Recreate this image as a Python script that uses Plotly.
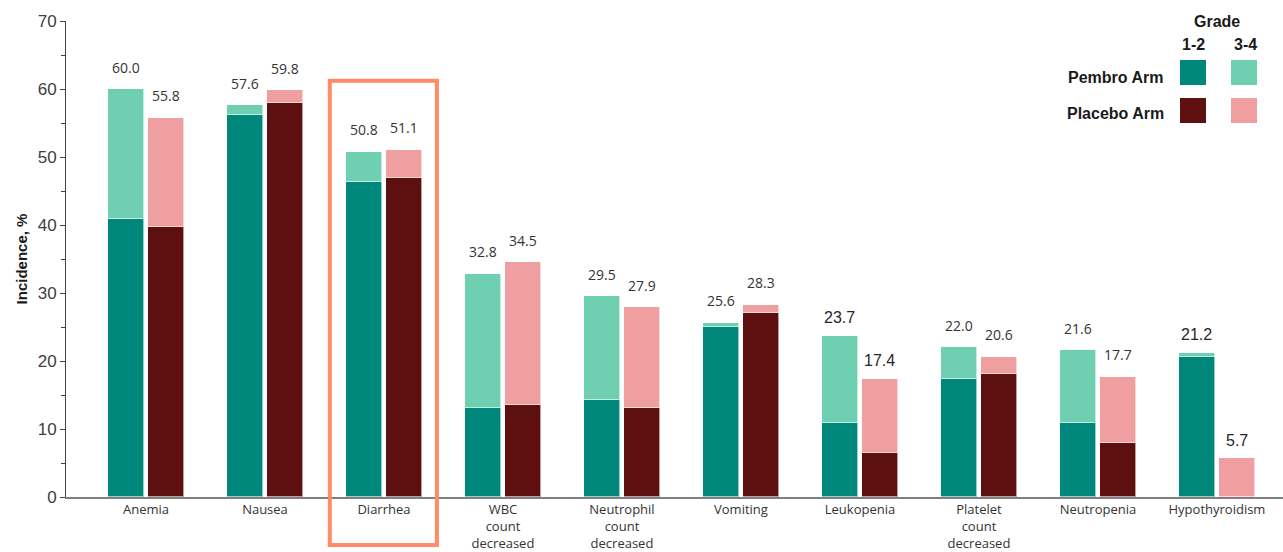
import plotly.graph_objects as go

categories = ["Anemia", "Nausea", "Diarrhea", "WBC<br>count<br>decreased",
              "Neutrophil<br>count<br>decreased", "Vomiting", "Leukopenia",
              "Platelet<br>count<br>decreased", "Neutropenia", "Hypothyroidism"]
pembro_total = [60.0, 57.6, 50.8, 32.8, 29.5, 25.6, 23.7, 22.0, 21.6, 21.2]
pembro_g12 = [40.9, 56.2, 46.3, 13.1, 14.3, 25.0, 10.9, 17.4, 10.9, 20.6]
placebo_total = [55.8, 59.8, 51.1, 34.5, 27.9, 28.3, 17.4, 20.6, 17.7, 5.7]
placebo_g12 = [39.7, 57.9, 46.9, 13.5, 13.1, 27.1, 6.5, 18.1, 7.9, 0.0]

pembro_g34 = [round(t - a, 1) for t, a in zip(pembro_total, pembro_g12)]
placebo_g34 = [round(t - a, 1) for t, a in zip(placebo_total, placebo_g12)]

C_TEAL = "#00877B"
C_TEAL_L = "#6FCFB1"
C_RED = "#5E1011"
C_PINK = "#F09FA0"

n = len(categories)
idx = list(range(n))
off = 0.168
bw = 0.31
xp = [i - off for i in idx]
xq = [i + off for i in idx]

fig = go.Figure()
line = dict(color="rgba(255,255,255,0.6)", width=1)
fig.add_trace(go.Bar(x=xp, y=pembro_g12, width=bw, marker=dict(color=C_TEAL, line=line), showlegend=False))
fig.add_trace(go.Bar(x=xp, y=pembro_g34, width=bw, marker=dict(color=C_TEAL_L, line=line), showlegend=False))
fig.add_trace(go.Bar(x=xq, y=placebo_g12, width=bw, marker=dict(color=C_RED, line=line), showlegend=False))
fig.add_trace(go.Bar(x=xq, y=placebo_g34, width=bw, marker=dict(color=C_PINK, line=line), showlegend=False))

lab_font = dict(family="Open Sans, Noto Sans, sans-serif", size=14, color="#333333")
lab_font_alt = dict(family="Arial, Liberation Sans, sans-serif", size=16, color="#262626")
alt_idx = {6, 9}
for i in idx:
    f = lab_font_alt if i in alt_idx else lab_font
    ys = 18 if i in alt_idx else 22
    fig.add_annotation(x=xp[i], y=pembro_total[i], text=f"{pembro_total[i]:.1f}", showarrow=False,
                       yshift=ys, font=f, xref="x", yref="y")
    fig.add_annotation(x=xq[i], y=placebo_total[i], text=f"{placebo_total[i]:.1f}", showarrow=False,
                       yshift=ys, font=f, xref="x", yref="y")

x_range = [-0.672, 9.555]
y_range = [0, 70]

def px_x(v):
    return (v - x_range[0]) / (x_range[1] - x_range[0])

def px_y(v):
    return (v - y_range[0]) / (y_range[1] - y_range[0])

# highlight box around Diarrhea
fig.add_shape(type="rect", xref="paper", yref="paper",
              x0=px_x(2 - 0.455), x1=px_x(2 + 0.445), y0=px_y(-7.05), y1=px_y(61.2),
              line=dict(color="#FF8C66", width=4), fillcolor="rgba(0,0,0,0)", layer="above")

# custom legend (paper coords from pixel layout)
W, H, L, T = 1217.0, 476.0, 66.0, 21.0
def pxp(x):
    return (x - L) / W
def pyp(y):
    return (T + H - y) / H

bold = dict(family="Arial, Liberation Sans, sans-serif", size=16, color="#1a1a1a")
fig.add_annotation(xref="paper", yref="paper", x=pxp(1217), y=pyp(21), text="<b>Grade</b>",
                   showarrow=False, font=bold, xanchor="center", yanchor="middle")
fig.add_annotation(xref="paper", yref="paper", x=pxp(1193), y=pyp(44), text="<b>1-2</b>",
                   showarrow=False, font=bold, xanchor="center", yanchor="middle")
fig.add_annotation(xref="paper", yref="paper", x=pxp(1245), y=pyp(44), text="<b>3-4</b>",
                   showarrow=False, font=bold, xanchor="center", yanchor="middle")
fig.add_annotation(xref="paper", yref="paper", x=pxp(1165), y=pyp(77), text="<b>Pembro Arm</b>",
                   showarrow=False, font=bold, xanchor="right", yanchor="middle")
fig.add_annotation(xref="paper", yref="paper", x=pxp(1166), y=pyp(114), text="<b>Placebo Arm</b>",
                   showarrow=False, font=bold, xanchor="right", yanchor="middle")
for (x0, y0, c) in [(1180, 60, C_TEAL), (1231, 60, C_TEAL_L), (1180, 98, C_RED), (1231, 98, C_PINK)]:
    fig.add_shape(type="rect", xref="paper", yref="paper", x0=pxp(x0), x1=pxp(x0 + 26),
                  y0=pyp(y0 + 25), y1=pyp(y0), fillcolor=c, line=dict(width=0))

fig.update_layout(
    barmode="stack",
    bargap=0,
    width=1283, height=552,
    margin=dict(l=66, r=0, t=21, b=55),
    plot_bgcolor="white", paper_bgcolor="white",
    xaxis=dict(range=x_range, tickmode="array", tickvals=idx, ticktext=categories,
               showgrid=False, zeroline=False, showline=True, linecolor="#7f7f7f", linewidth=1.5,
               ticks="", ticklabelstandoff=0, automargin=False,
               tickfont=dict(family="Open Sans, Noto Sans, sans-serif", size=13, color="#333333"),
               fixedrange=True),
    yaxis=dict(range=y_range, dtick=10, showgrid=False, zeroline=False, showline=True, automargin=False,
               linecolor="#404040", linewidth=1, ticks="outside", ticklen=5, tickcolor="#404040",
               minor=dict(dtick=5, ticks="outside", ticklen=4, tickcolor="#404040"),
               tickfont=dict(family="Arial, Liberation Sans, sans-serif", size=17, color="#404040"),
               title=dict(text="<b>Incidence, %</b>", standoff=6,
                          font=dict(family="Arial, Liberation Sans, sans-serif", size=15, color="#1a1a1a"))),
)

fig.write_html("out.html")
